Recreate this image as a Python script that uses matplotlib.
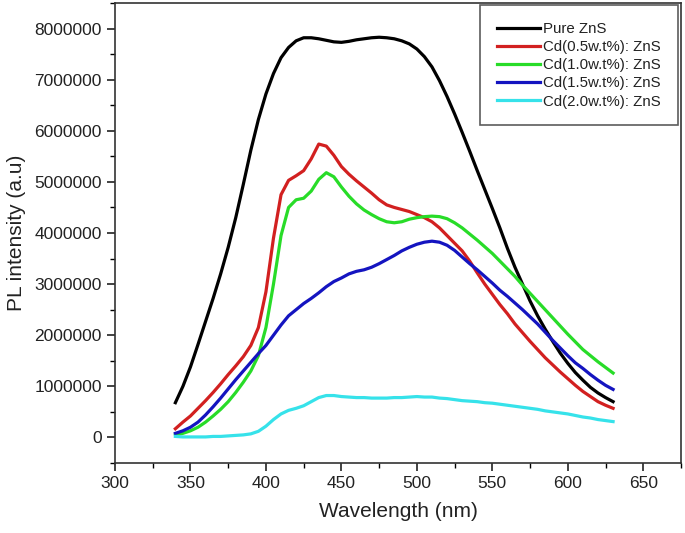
import numpy as np
import matplotlib
matplotlib.use("Agg")
import matplotlib.pyplot as plt
from matplotlib.ticker import MultipleLocator

plt.rcParams['font.family'] = ['Liberation Sans', 'DejaVu Sans']

wavelength = list(range(340, 631, 5))

pure_zns = [0.68, 1.0, 1.38, 1.82, 2.27, 2.72, 3.2, 3.72, 4.3, 4.95,
            5.62, 6.22, 6.72, 7.12, 7.43, 7.63, 7.76, 7.82, 7.82, 7.8,
            7.77, 7.74, 7.73, 7.75, 7.78, 7.8, 7.82, 7.83, 7.82, 7.8,
            7.76, 7.7, 7.6, 7.45, 7.25, 6.98, 6.67, 6.33, 5.97, 5.6,
            5.22, 4.85, 4.48, 4.1, 3.7, 3.33, 3.0, 2.67, 2.38, 2.12,
            1.88, 1.65, 1.45, 1.27, 1.12, 0.98, 0.87, 0.78, 0.7]

cd_05 = [0.17, 0.3, 0.42, 0.57, 0.72, 0.88, 1.05, 1.23, 1.4, 1.58,
         1.8, 2.15, 2.85, 3.9, 4.75, 5.03, 5.12, 5.22, 5.45, 5.74,
         5.7, 5.52, 5.3, 5.15, 5.02, 4.9, 4.78, 4.65, 4.55, 4.5,
         4.46, 4.42, 4.36, 4.3, 4.22, 4.1, 3.95, 3.8, 3.65, 3.45,
         3.22, 3.0, 2.8, 2.6, 2.42, 2.22, 2.05, 1.88, 1.72, 1.56,
         1.42, 1.28, 1.15, 1.02, 0.9, 0.8, 0.7, 0.63, 0.57]

cd_10 = [0.05, 0.08, 0.13, 0.2, 0.3, 0.42, 0.55, 0.7, 0.88, 1.08,
         1.3, 1.6, 2.15, 3.0, 3.95, 4.5, 4.65, 4.68, 4.82, 5.05,
         5.18, 5.1, 4.9, 4.72, 4.57, 4.45, 4.36, 4.28, 4.22, 4.2,
         4.22, 4.27, 4.3, 4.32, 4.33, 4.32, 4.28, 4.2, 4.1, 3.98,
         3.86, 3.73, 3.6, 3.45, 3.3, 3.15, 2.98, 2.82, 2.66, 2.5,
         2.34, 2.18, 2.02, 1.87, 1.72, 1.6, 1.48, 1.37, 1.26]

cd_15 = [0.08, 0.13, 0.2, 0.3, 0.44, 0.6, 0.77, 0.95, 1.13, 1.3,
         1.47, 1.64, 1.8, 2.0, 2.2, 2.38, 2.5, 2.62, 2.72, 2.83,
         2.95, 3.05, 3.12, 3.2, 3.25, 3.28, 3.33, 3.4, 3.48, 3.56,
         3.65, 3.72, 3.78, 3.82, 3.84, 3.82, 3.76, 3.66, 3.53, 3.4,
         3.28, 3.15, 3.02, 2.88, 2.76, 2.63, 2.5, 2.36, 2.22, 2.06,
         1.9, 1.75, 1.6, 1.46, 1.35, 1.23, 1.12, 1.02, 0.94]

cd_20 = [0.02, 0.01, 0.01, 0.01, 0.01, 0.02, 0.02, 0.03, 0.04, 0.05,
         0.07, 0.12, 0.22, 0.35, 0.46, 0.53, 0.57, 0.62, 0.7, 0.78,
         0.82, 0.82, 0.8, 0.79, 0.78, 0.78, 0.77, 0.77, 0.77, 0.78,
         0.78, 0.79, 0.8, 0.79, 0.79, 0.77, 0.76, 0.74, 0.72, 0.71,
         0.7, 0.68, 0.67, 0.65, 0.63, 0.61, 0.59, 0.57, 0.55, 0.52,
         0.5, 0.48, 0.46, 0.43, 0.4, 0.38, 0.35, 0.33, 0.31]

labels = ["Pure ZnS", "Cd(0.5w.t%): ZnS", "Cd(1.0w.t%): ZnS",
          "Cd(1.5w.t%): ZnS", "Cd(2.0w.t%): ZnS"]
colors = ["#000000", "#d22020", "#28dc28", "#1414c0", "#36e2ea"]
series = [pure_zns, cd_05, cd_10, cd_15, cd_20]

fig = plt.figure(figsize=(6.85, 5.33), dpi=100)
ax = fig.add_axes([115 / 685, 1 - 463 / 533, (681 - 115) / 685, (463 - 3) / 533])

x = np.array(wavelength)
for s, c, lab in zip(series, colors, labels):
    ax.plot(x, np.array(s) * 1e6, color=c, lw=2.3, label=lab)

ax.set_xlim(300, 675)
ax.set_ylim(-500000, 8500000)
ax.xaxis.set_major_locator(MultipleLocator(50))
ax.xaxis.set_minor_locator(MultipleLocator(25))
ax.yaxis.set_major_locator(MultipleLocator(1000000))
ax.yaxis.set_minor_locator(MultipleLocator(500000))
ax.ticklabel_format(style='plain', axis='y', useOffset=False)
ax.tick_params(which='major', direction='out', length=6, width=1.2,
               labelsize=12.5, colors='#222222', top=False, right=False)
ax.tick_params(which='minor', direction='out', length=3.5, width=1.0,
               top=False, right=False)
for sp in ax.spines.values():
    sp.set_linewidth(1.2)
    sp.set_color('#333333')

ax.set_xlabel("Wavelength (nm)", fontsize=15, color='#222222', labelpad=8)
ax.set_ylabel("PL intensity (a.u)", fontsize=15, color='#222222', labelpad=6)

leg = ax.legend(loc='upper right', bbox_to_anchor=(678 / 685, 1 - 5 / 533),
                bbox_transform=fig.transFigure,
                fontsize=10.8, frameon=True, fancybox=False,
                edgecolor='#333333', labelspacing=0.28, handlelength=2.9,
                handletextpad=0.2, borderpad=1.12, borderaxespad=0.0)
leg.get_frame().set_linewidth(1.2)
for t in leg.get_texts():
    t.set_color('#222222')

fig.savefig("out.png", dpi=100)
